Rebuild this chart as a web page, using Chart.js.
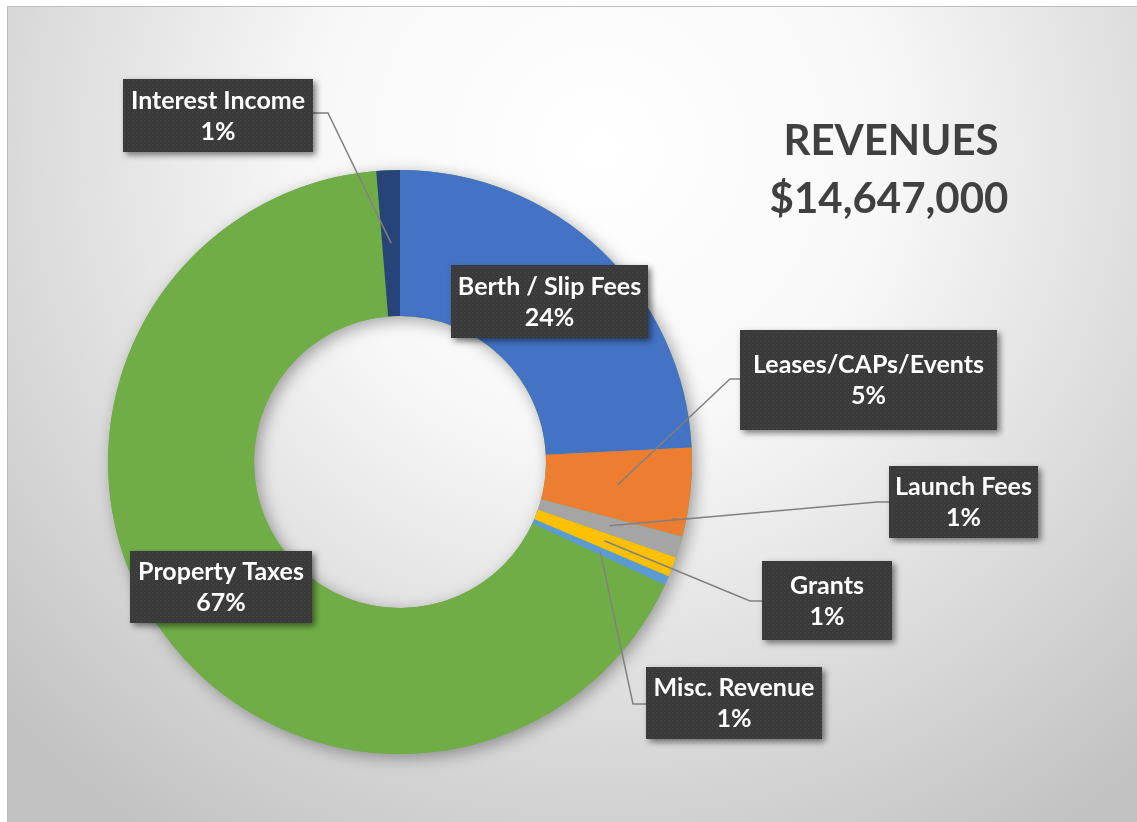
<!DOCTYPE html>
<html>
<head>
<meta charset="utf-8">
<title>Revenues</title>
<script src="https://cdn.jsdelivr.net/npm/chart.js@4.4.0/dist/chart.umd.min.js"></script>
<style>
  html, body { margin: 0; padding: 0; background: #ffffff; }
  canvas { display: block; }
</style>
</head>
<body>
<canvas id="chart" width="1137" height="822"></canvas>
<script>
const categories = [
  'Berth / Slip Fees',
  'Leases/CAPs/Events',
  'Launch Fees',
  'Grants',
  'Misc. Revenue',
  'Property Taxes',
  'Interest Income',
];
// dollars (total matches the title)
const revenues = [3545000, 718000, 176000, 161000, 75000, 9782000, 190000];
const titleLines = ['REVENUES', '$14,647,000'];

const sliceColors = ['#4472C4', '#ED7D31', '#A5A5A5', '#FFC000', '#5B9BD5', '#70AD47', '#264478'];

// callout boxes: [left, top, right, bottom], elbow = where the leader line leaves the box
const callouts = [
  {box: [451, 265, 648, 338], elbow: null},
  {box: [740, 330, 997, 430], elbow: [[740, 379], [730, 379]]},
  {box: [889, 466, 1038, 538], elbow: [[889, 502], [877, 502]]},
  {box: [762, 561, 892, 640], elbow: [[762, 601], [750, 601]]},
  {box: [646, 667, 822, 739], elbow: [[646, 704], [633, 704]]},
  {box: [130, 551, 312, 623], elbow: null},
  {box: [123, 79, 313, 152], elbow: [[313, 113], [328, 113]]},
];

const labelFont = 'bold 25px Lato, "Open Sans", sans-serif';
const titleFont = 'bold 42px Lato, "Open Sans", sans-serif';

function makeDotPattern(ctx) {
  const tile = document.createElement('canvas');
  tile.width = 4;
  tile.height = 4;
  const t = tile.getContext('2d');
  t.fillStyle = '#3a3a3a';
  t.fillRect(0, 0, 4, 4);
  t.fillStyle = '#4a4a4a';
  t.fillRect(0, 0, 1, 1);
  t.fillStyle = '#434343';
  t.fillRect(2, 2, 1, 1);
  return ctx.createPattern(tile, 'repeat');
}

const backgroundPlugin = {
  id: 'background',
  beforeDraw(chart) {
    const ctx = chart.ctx;
    ctx.save();
    ctx.fillStyle = '#ffffff';
    ctx.fillRect(0, 0, chart.width, chart.height);
    const grad = ctx.createRadialGradient(600, 150, 0, 600, 150, 820);
    grad.addColorStop(0, '#ffffff');
    grad.addColorStop(0.35, '#f8f8f8');
    grad.addColorStop(1, '#c2c2c2');
    ctx.fillStyle = grad;
    ctx.fillRect(7, 6, chart.width - 7, chart.height - 6);
    ctx.strokeStyle = '#bdbdbd';
    ctx.lineWidth = 1;
    ctx.beginPath();
    ctx.moveTo(7.5, chart.height);
    ctx.lineTo(7.5, 6.5);
    ctx.lineTo(chart.width, 6.5);
    ctx.stroke();
    ctx.restore();
  },
};

const ringShadowPlugin = {
  id: 'ringShadow',
  beforeDatasetsDraw(chart) {
    const arc = chart.getDatasetMeta(0).data[0];
    if (!arc) return;
    const {x, y, innerRadius, outerRadius} = arc.getProps(['x', 'y', 'innerRadius', 'outerRadius'], true);
    const ctx = chart.ctx;
    ctx.save();
    ctx.shadowColor = 'rgba(0, 0, 0, 0.35)';
    ctx.shadowBlur = 16;
    ctx.shadowOffsetX = 4;
    ctx.shadowOffsetY = 4;
    ctx.fillStyle = '#70AD47';
    ctx.beginPath();
    ctx.arc(x, y, outerRadius, 0, Math.PI * 2);
    ctx.arc(x, y, innerRadius, 0, Math.PI * 2, true);
    ctx.fill();
    ctx.restore();
  },
};

const calloutPlugin = {
  id: 'callouts',
  afterDatasetsDraw(chart) {
    const ctx = chart.ctx;
    const arcs = chart.getDatasetMeta(0).data;
    const total = revenues.reduce((a, b) => a + b, 0);
    const pattern = makeDotPattern(ctx);

    // leader lines
    ctx.save();
    ctx.strokeStyle = '#808080';
    ctx.lineWidth = 1.5;
    callouts.forEach((c, i) => {
      if (!c.elbow) return;
      const end = arcs[i].tooltipPosition(true);
      ctx.beginPath();
      ctx.moveTo(c.elbow[0][0], c.elbow[0][1]);
      ctx.lineTo(c.elbow[1][0], c.elbow[1][1]);
      ctx.lineTo(end.x, end.y);
      ctx.stroke();
    });
    ctx.restore();

    // boxes and text
    callouts.forEach((c, i) => {
      const [x1, y1, x2, y2] = c.box;
      ctx.save();
      ctx.shadowColor = 'rgba(0, 0, 0, 0.5)';
      ctx.shadowBlur = 6;
      ctx.shadowOffsetX = 3;
      ctx.shadowOffsetY = 3;
      ctx.fillStyle = pattern;
      ctx.fillRect(x1, y1, x2 - x1, y2 - y1);
      ctx.restore();

      const pct = Math.max(1, Math.round(revenues[i] / total * 100));
      const cx = (x1 + x2) / 2;
      const cy = (y1 + y2) / 2;
      ctx.save();
      ctx.fillStyle = '#ffffff';
      ctx.font = labelFont;
      ctx.textAlign = 'center';
      ctx.textBaseline = 'middle';
      ctx.fillText(categories[i], cx, cy - 15);
      ctx.fillText(pct + '%', cx, cy + 16);
      ctx.restore();
    });

    // title
    ctx.save();
    ctx.fillStyle = '#404040';
    ctx.font = titleFont;
    ctx.textAlign = 'center';
    ctx.textBaseline = 'middle';
    ctx.fillText(titleLines[0], 891, 141);
    ctx.fillText(titleLines[1], 889, 199);
    ctx.restore();
  },
};

const ctx = document.getElementById('chart').getContext('2d');
new Chart(ctx, {
  type: 'doughnut',
  data: {
    labels: categories,
    datasets: [{
      data: revenues,
      backgroundColor: sliceColors,
      borderWidth: 0,
      hoverOffset: 0,
      offset: 0,
    }],
  },
  options: {
    responsive: false,
    animation: false,
    cutout: '50%',
    layout: {
      padding: {left: 108, top: 170, right: 445, bottom: 68},
    },
    plugins: {
      legend: {display: false},
      tooltip: {enabled: false},
    },
    events: [],
  },
  plugins: [backgroundPlugin, ringShadowPlugin, calloutPlugin],
});
</script>
</body>
</html>
